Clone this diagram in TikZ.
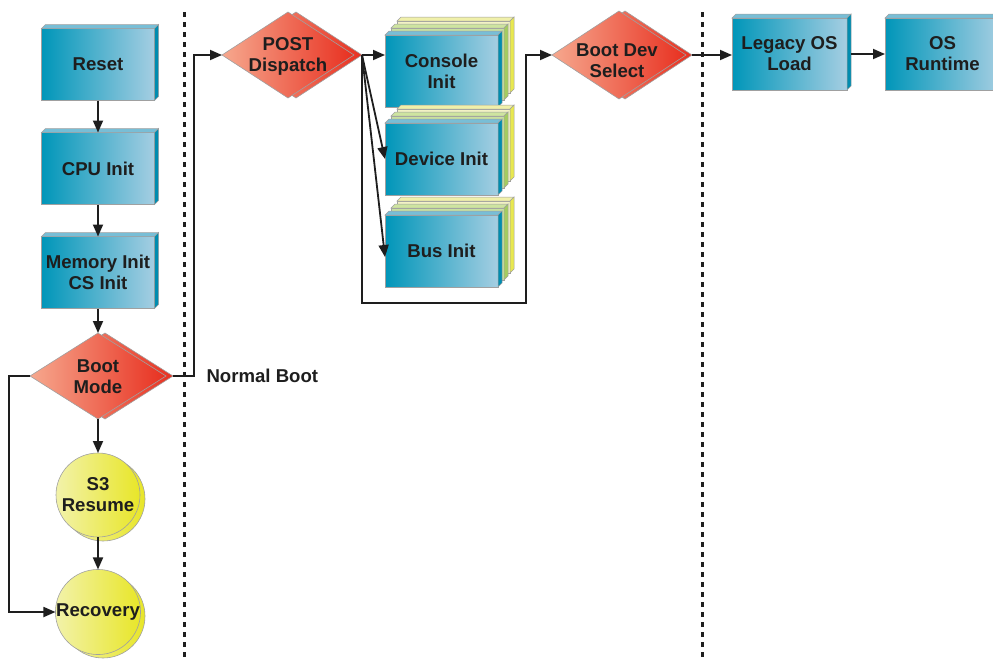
\documentclass[tikz,border=0pt]{standalone}
\usepackage{fontspec}
\setmainfont{Liberation Sans}
\usetikzlibrary{arrows.meta,shapes.geometric}

\definecolor{ink}{RGB}{30,30,30}
\definecolor{edge}{RGB}{160,160,160}
\definecolor{tealL}{RGB}{0,150,185}
\definecolor{tealR}{RGB}{165,206,226}
\definecolor{tealTop}{RGB}{120,190,214}
\definecolor{tealSide}{RGB}{0,140,175}
\definecolor{dmdL}{RGB}{246,168,142}
\definecolor{dmdR}{RGB}{232,48,32}
\definecolor{dotL}{RGB}{242,242,170}
\definecolor{dotR}{RGB}{232,230,40}
\definecolor{grnFace}{RGB}{200,224,160}
\definecolor{grnTop}{RGB}{206,228,160}
\definecolor{grnSide}{RGB}{164,204,96}
\definecolor{ylwFace}{RGB}{242,242,196}
\definecolor{ylwTop}{RGB}{240,240,170}
\definecolor{ylwSide}{RGB}{232,232,80}

\tikzset{
  x=1pt, y=-1pt,
  every node/.style={font=\bfseries\fontsize{18.6}{21}\selectfont, text=ink, align=center},
  card/.style={rectangle, draw=edge, line width=0.6pt, inner sep=0pt, outer sep=0pt,
    minimum width=113pt, minimum height=72pt},
  tealcard/.style={card, left color=tealL, right color=tealR},
  grncard/.style={card, fill=grnFace},
  ylwcard/.style={card, fill=ylwFace},
  dmd/.style={diamond, draw=edge, line width=0.6pt, inner sep=0pt, outer sep=0pt,
    left color=dmdL, right color=dmdR, minimum width=136pt, minimum height=86pt},
  dot/.style={circle, draw=edge, line width=0.6pt, inner sep=0pt, outer sep=0pt,
    left color=dotL, right color=dotR, minimum size=84pt},
  arr/.style={draw=ink, line width=1.8pt, -{Triangle[length=12pt,width=10pt]}},
  divider/.style={draw=ink, line width=3pt, dash pattern=on 5pt off 5pt},
  strip/.style={draw=edge, line width=0.5pt}
}

% top and right faces that give a card its depth
\newcommand{\carddepth}[3]{%
  \filldraw[strip, fill=#2] (#1.north west) -- (#1.north east) -- ++(4,-4)
    -- ([xshift=4pt,yshift=4pt]#1.north west) -- cycle;
  \filldraw[strip, fill=#3] (#1.north east) -- ++(4,-4)
    -- ([xshift=4pt,yshift=4pt]#1.south east) -- (#1.south east) -- cycle;
}

% a card with two coloured cards stacked behind it
\newcommand{\cardstack}[4]{%
  \node[ylwcard] (#1-y) at (#2+12,#3-14) {};
  \carddepth{#1-y}{ylwTop}{ylwSide}
  \node[grncard] (#1-g) at (#2+6,#3-7) {};
  \carddepth{#1-g}{grnTop}{grnSide}
  \node[tealcard] (#1) at (#2,#3) {#4};
  \carddepth{#1}{tealTop}{tealSide}
}

\begin{document}
\begin{tikzpicture}
\useasboundingbox (0,0) rectangle (993,659);
\clip (0,0) rectangle (993,659);

% phase dividers
\coordinate (divA-top) at (184,12);
\coordinate (divA-bot) at (184,662);
\coordinate (divB-top) at (702,12);
\coordinate (divB-bot) at (702,662);
\draw[divider] (divA-top) -- (divA-bot);
\draw[divider] (divB-top) -- (divB-bot);

% left column: reset through recovery
\node[tealcard] (reset) at (98,64.5) {Reset};
\carddepth{reset}{tealTop}{tealSide}
\node[tealcard] (cpu) at (98,168.5) {CPU Init};
\carddepth{cpu}{tealTop}{tealSide}
\node[tealcard] (mem) at (98,272.5) {Memory Init\\CS Init};
\carddepth{mem}{tealTop}{tealSide}

\node[dmd] (bm-bk) at (105,376) {};
\node[dmd] (bm) at (98,376) {};
\node (bm-t) at (98,377) {Boot\\Mode};

\node[dot] (s3-bk) at (103,499) {};
\node[dot] (s3) at (98,495) {S3\\Resume};
\node[dot] (rec-bk) at (103,616) {};
\node[dot] (rec) at (98,612) {Recovery};

% POST dispatch and its init stages
\node[dmd, minimum width=132pt] (pd-bk) at (296,55) {};
\node[dmd, minimum width=132pt] (pd) at (288,55) {};
\node (pd-t) at (288,56) {POST\\Dispatch};

\cardstack{con}{441.5}{71}{Console\\Init}
\cardstack{dev}{441.5}{159}{Device Init}
\cardstack{bus}{441.5}{251}{Bus Init}

% boot device selection and OS hand-off
\node[dmd, minimum width=134pt, minimum height=88pt] (bds-bk) at (625,55) {};
\node[dmd, minimum width=134pt, minimum height=88pt] (bds) at (619,55) {};
\node (bds-t) at (617,61) {Boot Dev\\Select};

\node[tealcard, minimum width=115pt] (leg) at (789.5,54) {Legacy OS\\Load};
\carddepth{leg}{tealTop}{tealSide}
\node[tealcard, minimum width=115pt] (os) at (942.5,54) {OS\\Runtime};
\carddepth{os}{tealTop}{tealSide}

% connectors
\draw[arr] (reset) -- (cpu);
\draw[arr] (cpu) -- (mem);
\draw[arr] (mem) -- (bm);
\draw[arr] (bm) -- (s3);
\draw[arr] (s3) -- (rec);
\draw[arr] (bm.west) -- ++(-21,0) |- (rec.west);

\draw[arr] (bm-bk.east) -- ++(21,0) |- (pd.west);
\node[anchor=west] (nb) at (203,376) {Normal Boot};

\draw[arr] (pd-bk.east) -- (pd-bk.east -| con.west);
\draw[arr] (pd-bk.east) -- (dev.west);
\draw[arr] (pd-bk.east) -- ([yshift=-6pt]bus.west);
\coordinate (loop) at (526,303);
\draw[arr] (pd-bk.east) |- (loop) |- (bds.west);

\draw[arr] (bds-bk.east) -- (bds-bk.east -| leg.west);
\draw[arr] ([xshift=4pt]leg.east) -- (os.west);
\end{tikzpicture}
\end{document}
